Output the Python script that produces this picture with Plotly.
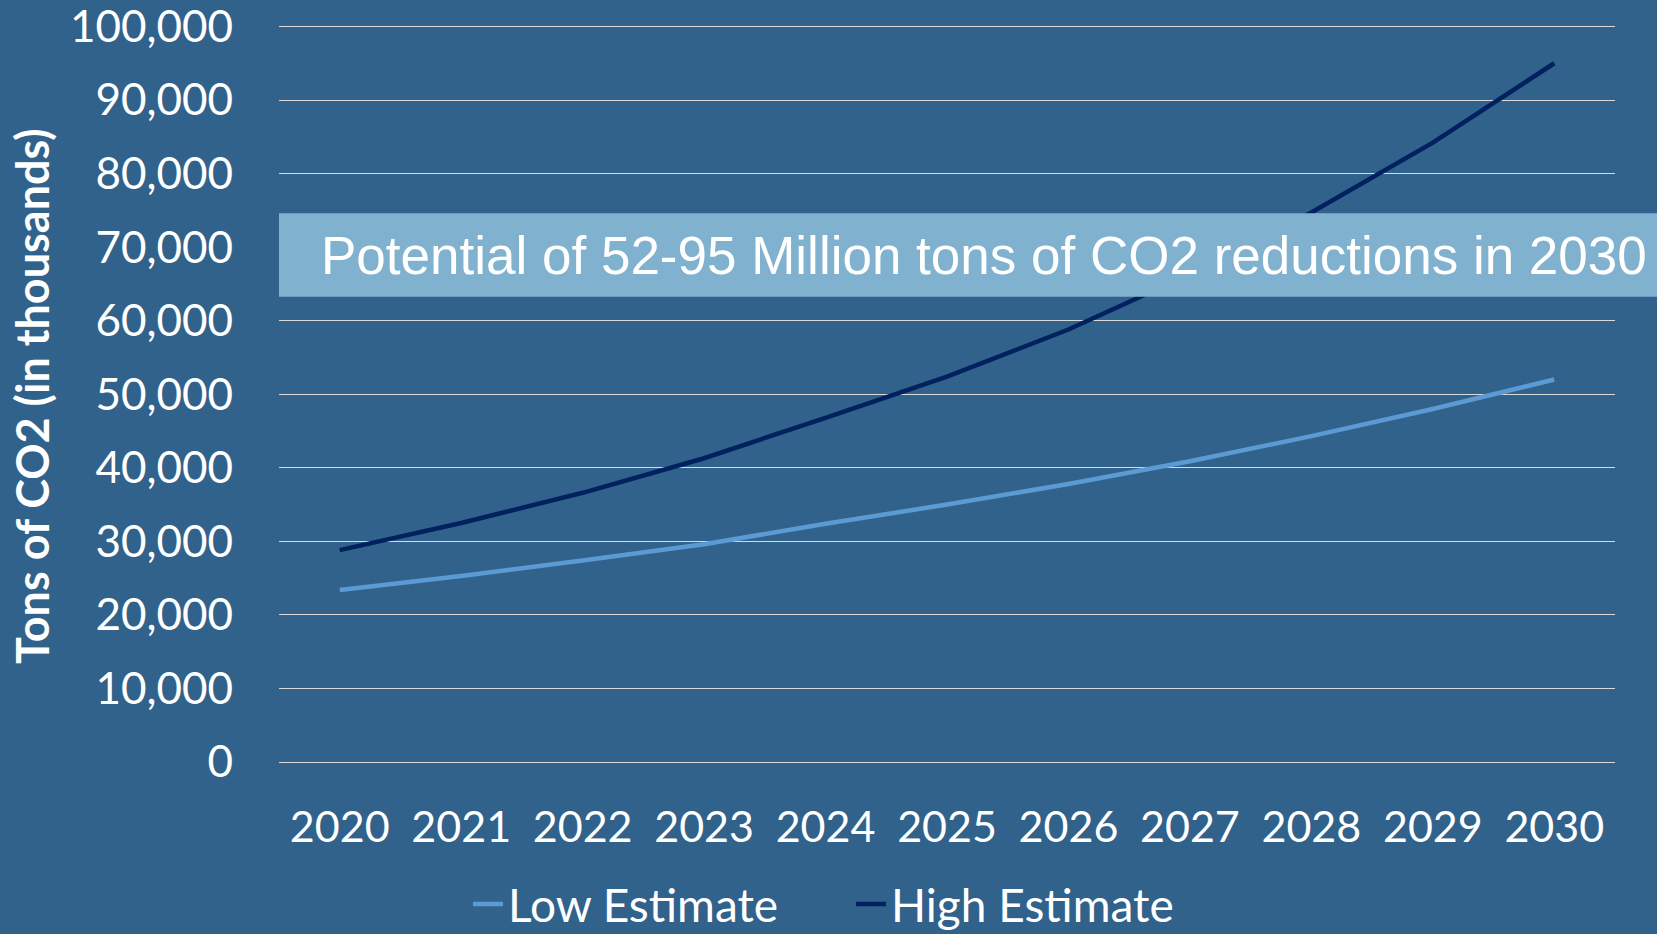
import plotly.graph_objects as go

years = ["2020", "2021", "2022", "2023", "2024", "2025", "2026", "2027", "2028", "2029", "2030"]
low_estimate = [23400, 25300, 27400, 29600, 32400, 35000, 37800, 40900, 44300, 48000, 52000]
high_estimate = [28800, 32500, 36600, 41300, 46800, 52400, 58800, 66300, 74700, 84200, 95000]
y_ticks = [0, 10000, 20000, 30000, 40000, 50000, 60000, 70000, 80000, 90000, 100000]
y_tick_labels = ["0", "10,000", "20,000", "30,000", "40,000", "50,000", "60,000",
                 "70,000", "80,000", "90,000", "100,000"]
y_title = "Tons of CO2 (in thousands)"
callout_text = "Potential of 52-95 Million tons of CO2 reductions in 2030"

BG = "#31628B"
W, H = 1657, 934
Y_MAX = 100200
L, R, B = 279, 42, 172
T = H - B - 735.3 * Y_MAX / 100000

fig = go.Figure()
fig.add_trace(go.Scatter(x=years, y=low_estimate, mode="lines", name="Low Estimate",
                         line=dict(color="#5B9BD5", width=4.5), legend="legend"))
fig.add_trace(go.Scatter(x=years, y=high_estimate, mode="lines", name="High Estimate",
                         line=dict(color="#002060", width=4.5), legend="legend2"))

plot_w = W - L - R
plot_h = H - T - B


def py(pix):
    return (H - B - pix) / plot_h


def px(pix):
    return (pix - L) / plot_w


box_top, box_bot = 213.5, 297
fig.add_shape(type="rect", xref="paper", yref="paper",
              x0=0, x1=px(W) + 0.01, y0=py(box_bot), y1=py(box_top),
              fillcolor="#80B2CF", line=dict(width=0), layer="above")
fig.add_annotation(text=callout_text, xref="paper", yref="paper",
                   x=px(319), xanchor="left",
                   y=py((box_top + box_bot) / 2), yanchor="middle",
                   showarrow=False,
                   font=dict(family="Liberation Sans, Arial", size=53, color="white"))
fig.add_annotation(text="<b>" + y_title + "</b>", xref="paper", yref="paper",
                   x=px(32), xanchor="center", y=py(396), yanchor="middle",
                   textangle=-90, showarrow=False,
                   font=dict(family="Lato", size=45, color="white"))

leg_common = dict(orientation="h", xanchor="left", yanchor="middle", yref="paper",
                  xref="paper", y=py(904),
                  font=dict(family="Lato", size=46, color="white"),
                  bgcolor="rgba(0,0,0,0)", borderwidth=0)

fig.update_layout(
    width=W, height=H,
    margin=dict(l=L, r=R, t=T, b=B, autoexpand=False),
    paper_bgcolor=BG, plot_bgcolor=BG,
    font=dict(family="Lato", color="white"),
    showlegend=True,
    legend=dict(x=px(468), **leg_common),
    legend2=dict(x=px(851), **leg_common),
    xaxis=dict(type="category", range=[-0.5, 10.5], showgrid=False, zeroline=False,
               showline=False, ticks="", tickfont=dict(family="Lato", size=43, color="white"),
               ticklabelstandoff=36, automargin=False),
    yaxis=dict(range=[0, Y_MAX], tickvals=y_ticks, ticktext=y_tick_labels,
               showgrid=True, gridcolor="#D9D9D9", gridwidth=1,
               zeroline=True, zerolinecolor="#D9D9D9", zerolinewidth=1,
               showline=False, ticks="", ticklabeloverflow="allow",
               tickfont=dict(family="Lato", size=44, color="white"),
               ticklabelstandoff=45, automargin=False),
)

fig.write_html("out.html", config={"displayModeBar": False},
               post_script="document.body.style.margin='0';")
